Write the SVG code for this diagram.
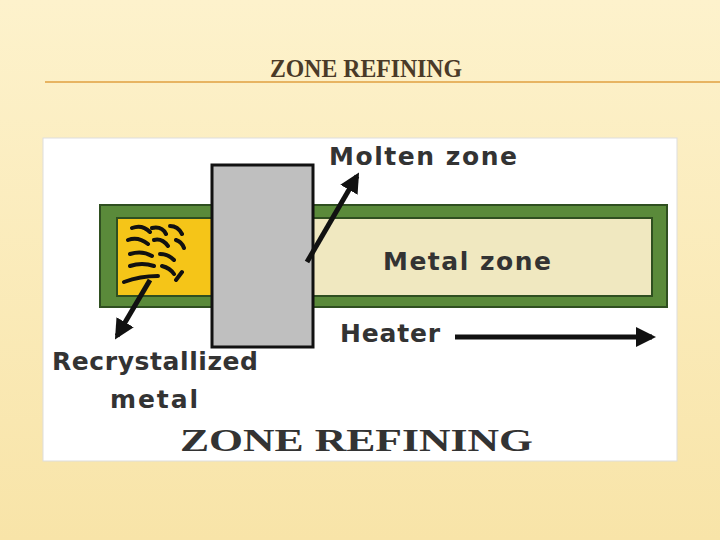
<svg xmlns="http://www.w3.org/2000/svg" width="720" height="540" viewBox="0 0 720 540">
<defs>
<linearGradient id="bg" x1="0" y1="0" x2="0" y2="1"><stop offset="0" stop-color="#fdf2cc"/><stop offset="1" stop-color="#f8e4a8"/></linearGradient>
<marker id="ah" viewBox="0 0 10 10" refX="8" refY="5" markerWidth="4" markerHeight="4" orient="auto"><path d="M0,0 L10,5 L0,10 z" fill="#111"/></marker>
<style>.lbl{font-family:"DejaVu Sans",sans-serif;font-weight:bold;font-size:25px;fill:#333}.ar{stroke:#111;stroke-width:5;fill:none;marker-end:url(#ah)}</style>
</defs>
<rect width="720" height="540" fill="url(#bg)"/>
<text x="366" y="77" text-anchor="middle" font-family="Liberation Serif,serif" font-weight="bold" font-size="25" fill="#4a3a28" textLength="192" lengthAdjust="spacingAndGlyphs">ZONE REFINING</text>
<line x1="45" y1="82" x2="720" y2="82" stroke="#e0a040" stroke-width="1.5"/>
<rect x="43" y="138" width="634" height="323" fill="#fff" stroke="#ddd"/>
<g id="bar"><rect x="100" y="205" width="567" height="102" fill="#5a8a3a" stroke="#2f4f20" stroke-width="2"/>
<rect x="117" y="218" width="535" height="78" fill="#f0e8c0" stroke="#2f4f20" stroke-width="2"/>
<rect x="117" y="218" width="95" height="78" fill="#f5c518" stroke="#2f4f20" stroke-width="2"/></g>
<g id="crystals" stroke="#111" stroke-width="4" stroke-linecap="round" fill="none">
<path d="M132,228 q10,-4 18,4 M152,228 q10,-2 14,6 M170,226 q8,0 12,8 M128,240 q10,-4 20,4 M154,240 q8,-2 14,6 M176,240 q6,2 8,8 M130,254 q12,-4 22,2 M160,254 q8,0 14,6 M130,266 q12,-4 24,0 M162,266 q8,2 12,8 M124,282 q16,-6 34,-6 M176,280 l6,-8"/></g>
<g id="heater"><rect x="212" y="165" width="101" height="182" fill="#bfbfbf" stroke="#111" stroke-width="3"/></g>
<g id="connectors">
<line class="ar" x1="307" y1="262" x2="357" y2="176"/>
<line class="ar" x1="150" y1="280" x2="117" y2="336"/>
<line class="ar" x1="455" y1="337" x2="652" y2="337"/>
</g>
<text class="lbl" x="329" y="165" textLength="188">Molten zone</text>
<text class="lbl" x="383" y="270" textLength="168">Metal zone</text>
<text class="lbl" x="340" y="342" textLength="100">Heater</text>
<text class="lbl" x="52" y="370" textLength="206">Recrystallized</text>
<text class="lbl" x="110" y="408" textLength="88">metal</text>
<text x="180" y="451" font-family="Liberation Serif,serif" font-weight="bold" font-size="32" fill="#333" textLength="353" lengthAdjust="spacingAndGlyphs">ZONE REFINING</text>
</svg>
